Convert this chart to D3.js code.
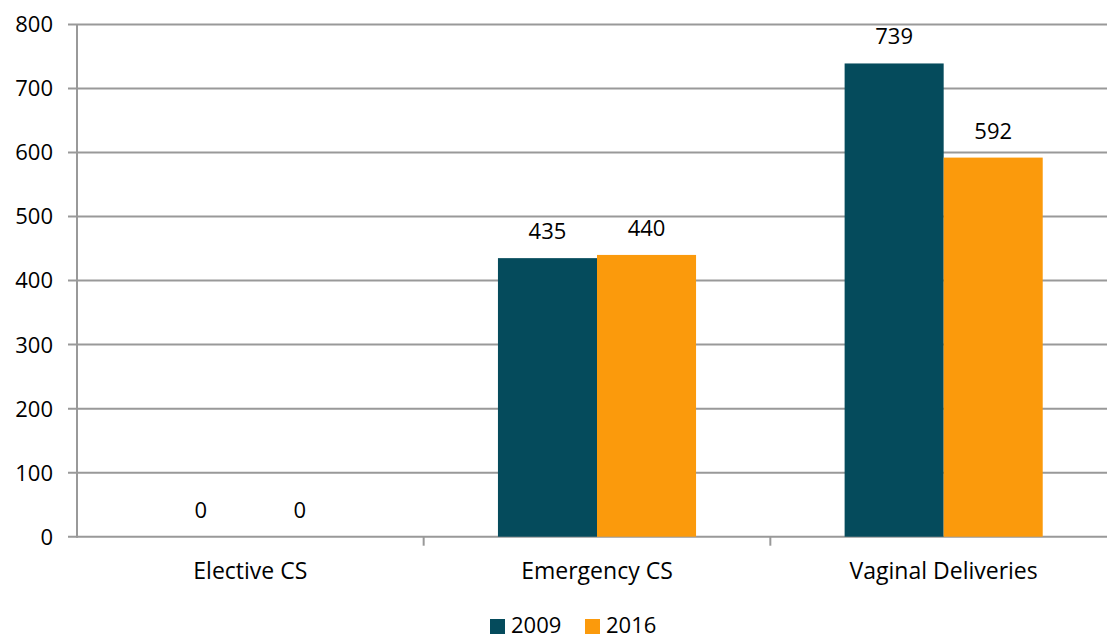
<!DOCTYPE html>
<html><head><meta charset="utf-8">
<script src="https://cdn.jsdelivr.net/npm/d3@7"></script>
<style>body{margin:0;background:#fff;overflow:hidden}text{font-family:"Open Sans",Lato,sans-serif;fill:#000}</style>
</head><body><svg id="c" width="1107" height="639"></svg>
<script>
const categories = ["Elective CS", "Emergency CS", "Vaginal Deliveries"];
const seriesNames = ["2009", "2016"];
const values2009 = [0, 435, 739];
const values2016 = [0, 440, 592];
const yTicks = [0, 100, 200, 300, 400, 500, 600, 700, 800];
const colors = ["#054b5c", "#fb9a0c"];

const svg = d3.select("#c");
const m = {l: 77, r: -10, t: 24.4, b: 102};
const W = 1107, H = 639;
const FS = 22;
const x0 = d3.scaleBand().domain(categories).range([m.l, W - m.r]).paddingInner(0).paddingOuter(0);
const x1 = d3.scaleBand().domain(seriesNames).range([0, x0.bandwidth()]).paddingInner(0).paddingOuter(0.75);
const y = d3.scaleLinear().domain([0, 800]).range([536.7, m.t]);

const grid = svg.append("g");
yTicks.forEach(t => {
  grid.append("line").attr("x1", m.l - 9).attr("x2", W).attr("y1", y(t)).attr("y2", y(t))
    .attr("stroke", "#999").attr("stroke-width", 2);
});
svg.append("line").attr("x1", m.l).attr("x2", m.l).attr("y1", y(800)).attr("y2", y(0) + 1)
  .attr("stroke", "#999").attr("stroke-width", 2);
categories.forEach((c, i) => {
  if (i > 0) svg.append("line").attr("x1", x0(c)).attr("x2", x0(c)).attr("y1", y(0)).attr("y2", y(0) + 9)
    .attr("stroke", "#999").attr("stroke-width", 2);
});

const data = categories.map((c, i) => ({c, vals: [values2009[i], values2016[i]]}));
const g = svg.selectAll("g.cat").data(data).join("g").attr("class", "cat")
  .attr("transform", d => `translate(${x0(d.c)},0)`);
g.selectAll("rect").data(d => d.vals.map((v, k) => ({v, s: seriesNames[k], k}))).join("rect")
  .attr("x", d => x1(d.s)).attr("width", x1.bandwidth())
  .attr("y", d => y(d.v)).attr("height", d => y(0) - y(d.v))
  .attr("fill", d => colors[d.k]);
g.selectAll("text.v").data(d => d.vals.map((v, k) => ({v, s: seriesNames[k], k}))).join("text")
  .attr("class", "v").attr("x", d => x1(d.s) + x1.bandwidth() / 2).attr("y", d => y(d.v) - 19)
  .attr("text-anchor", "middle").attr("font-size", FS).text(d => d.v);

yTicks.forEach(t => {
  svg.append("text").attr("x", 53).attr("y", y(t)).attr("dy", "0.36em").attr("text-anchor", "end")
    .attr("font-size", FS).text(t);
});
categories.forEach(c => {
  svg.append("text").attr("x", x0(c) + x0.bandwidth() / 2).attr("y", 579).attr("text-anchor", "middle")
    .attr("font-size", 23).text(c);
});
const lg = svg.append("g");
[[490, 511], [585, 606]].forEach((p, k) => {
  lg.append("rect").attr("x", p[0]).attr("y", 619).attr("width", 15).attr("height", 15).attr("fill", colors[k]);
  lg.append("text").attr("x", p[1]).attr("y", 633).attr("font-size", FS).text(seriesNames[k]);
});
</script></body></html>
